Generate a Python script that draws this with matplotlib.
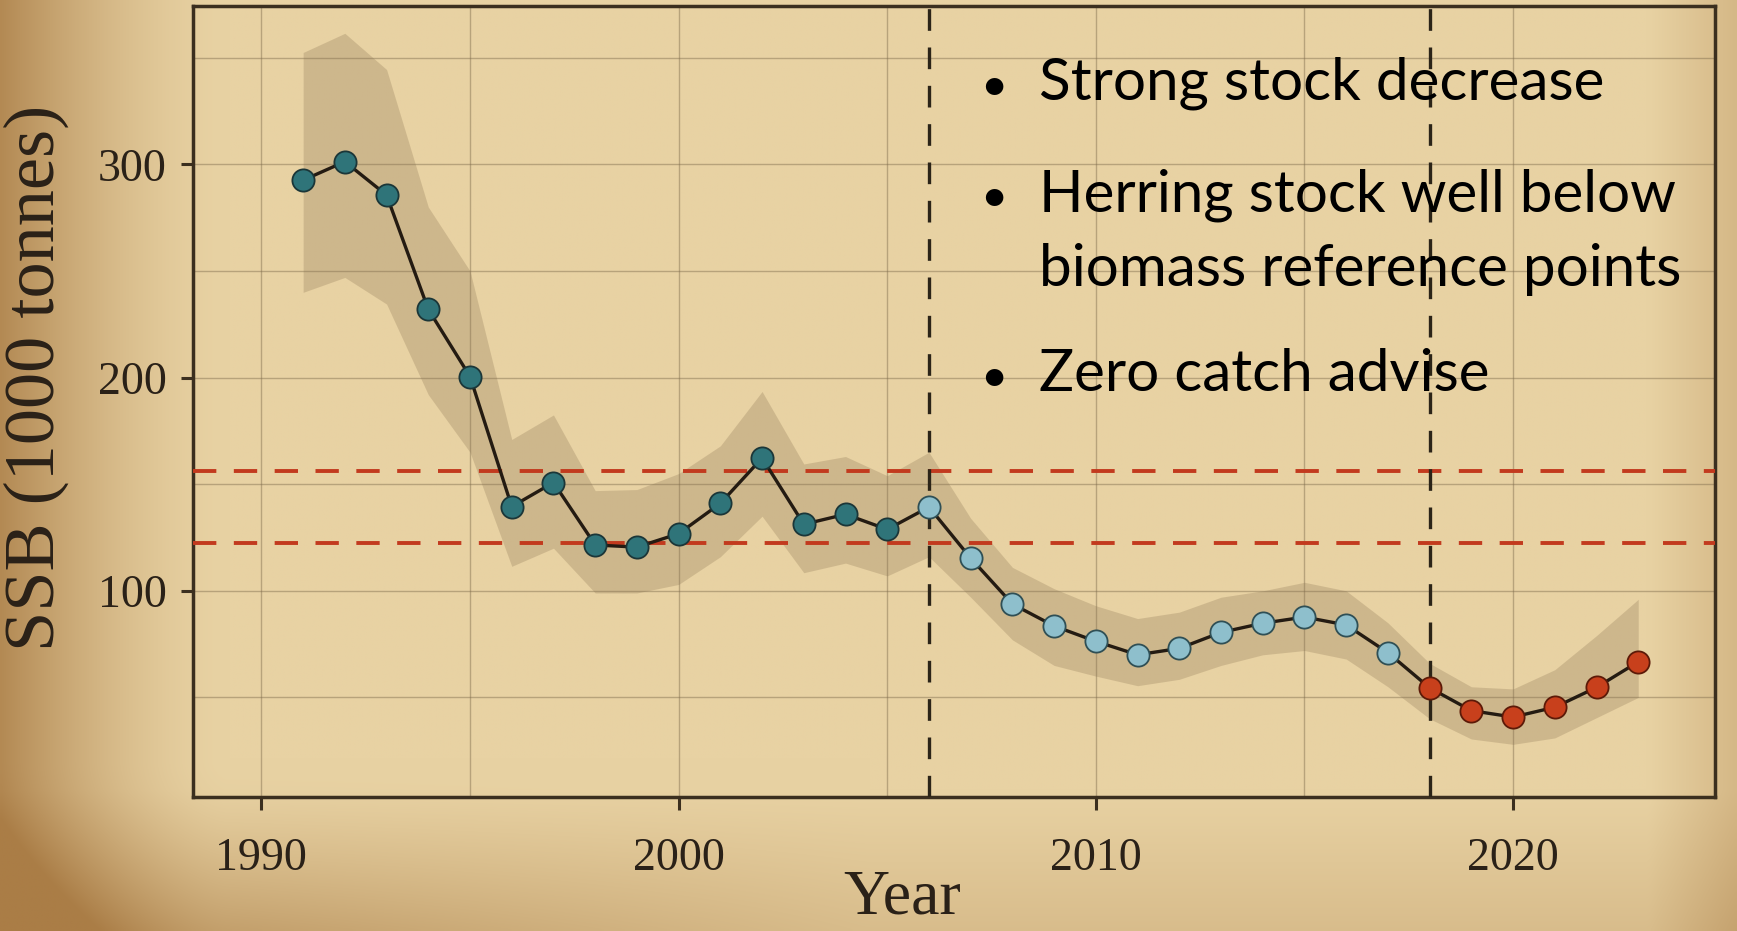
import numpy as np
import matplotlib.pyplot as plt
from matplotlib.ticker import MultipleLocator

# herring SSB assessment
years = list(range(1991, 2024))
ssb = [292.6, 301.3, 285.6, 232.0, 200.5, 139.5, 150.8, 121.5, 120.5, 126.8,
       141.0, 162.3, 131.2, 135.9, 128.8, 139.3, 115.3, 93.8, 83.5, 76.3,
       70.0, 73.0, 80.5, 84.8, 87.7, 84.0, 71.0, 54.5, 43.8, 40.8,
       45.4, 54.7, 66.7]
ssb_upper = [352.5, 361.5, 344.5, 280.0, 250.0, 171.0, 182.5, 147.0, 147.5, 155.0,
             168.0, 193.5, 159.5, 163.0, 154.0, 165.0, 134.0, 111.0, 101.0, 93.0,
             87.0, 90.0, 97.0, 100.0, 104.0, 100.0, 85.0, 66.0, 55.0, 54.0,
             63.0, 79.0, 96.0]
ssb_lower = [240.0, 247.0, 234.5, 192.0, 165.0, 111.5, 120.0, 99.0, 99.0, 103.0,
             116.0, 135.0, 108.5, 113.0, 107.0, 116.0, 97.0, 77.0, 65.0, 60.0,
             55.5, 58.5, 65.0, 70.0, 72.0, 68.0, 55.0, 40.0, 30.5, 28.0,
             31.0, 40.5, 50.0]
ref_points = [122.5, 156.0]      # Blim, Bpa
period_breaks = [2006, 2018]
xticks = [1990, 2000, 2010, 2020]
yticks = [100, 200, 300]
bullets = [["Strong stock decrease"],
           ["Herring stock well below", "biomass reference points"],
           ["Zero catch advise"]]

period_colors = ["#2f7479", "#8ebfcc", "#c8401c"]
period_edges = ["#1b3638", "#2f4f55", "#5c1a08"]

W, H = 1737, 931
fig = plt.figure(figsize=(W / 100, H / 100), dpi=100)

# parchment background with darker edges
yy, xx = np.mgrid[0:1:240j, 0:1:450j]
shade = 0.85 * np.clip(1 - xx / 0.13, 0, 1) ** 1.6
shade += 0.45 * np.clip((yy - 0.82) / 0.18, 0, 1) ** 1.5 * np.clip(1 - xx / 0.5, 0, 1)
shade += 0.25 * np.clip((yy - 0.85) / 0.15, 0, 1)
shade += 0.3 * np.clip((xx - 0.95) / 0.05, 0, 1)
shade = np.clip(shade, 0, 1)[..., None]
base = np.array([232, 210, 163]) / 255
dark = np.array([170, 125, 70]) / 255
bg = base * (1 - shade) + dark * shade
bgax = fig.add_axes([0, 0, 1, 1], zorder=-10)
bgax.imshow(bg, aspect="auto", interpolation="bilinear", extent=[0, 1, 0, 1])
bgax.axis("off")

ax = fig.add_axes([193 / W, 1 - 797 / H, (1715 - 193) / W, (797 - 6) / H])
ax.set_facecolor("none")
ax.set_xlim(1988.36, 2024.84)
ax.set_ylim(3.3, 374.3)

ax.fill_between(years, ssb_lower, ssb_upper, color="#8a7352", alpha=0.28, lw=0, zorder=2)

for y in ref_points:
    ax.axhline(y, color="#c23a1e", lw=2.8, dashes=(6.0, 4.5), zorder=3)
for x in period_breaks:
    ax.axvline(x, color="#2b2418", lw=2.4, dashes=(6.5, 5.0), zorder=3)

ax.plot(years, ssb, color="#241b12", lw=2.4, zorder=4)

groups = np.digitize(years, period_breaks)
for g in range(3):
    xs = [yr for yr, k in zip(years, groups) if k == g]
    ys = [v for v, k in zip(ssb, groups) if k == g]
    ax.plot(xs, ys, "o", ms=16, mfc=period_colors[g], mec=period_edges[g],
            mew=1.3, zorder=5)

ax.set_xticks(xticks)
ax.set_yticks(yticks)
ax.xaxis.set_minor_locator(MultipleLocator(5))
ax.yaxis.set_minor_locator(MultipleLocator(50))
ax.grid(which="both", color="#7d6a4c", lw=1.0, alpha=0.45, zorder=1)
ax.set_axisbelow(True)

serif = ["Liberation Serif", "DejaVu Serif"]
ax.tick_params(which="major", direction="out", length=9, width=2.2, color="#3b2f1f",
               labelsize=33, labelcolor="#2a2118")
ax.tick_params(axis="x", pad=20)
ax.tick_params(axis="y", pad=10)
ax.tick_params(which="minor", length=0)
for lab in ax.get_xticklabels() + ax.get_yticklabels():
    lab.set_family(serif)
for sp in ax.spines.values():
    sp.set_color("#3b2f1f")
    sp.set_linewidth(2.5)

fig.text(36 / W, 1 - 378 / H, "SSB (1000 tonnes)", rotation=90, ha="center", va="center",
         fontsize=52, family=serif, color="#2a2118")
fig.text(902 / W, 4 / H, "Year", ha="center", va="bottom",
         fontsize=46, family=serif, color="#2a2118")

# bullet points
sans = ["Lato", "DejaVu Sans"]
line_y = [[100], [211, 286], [391]]
for lines, ys in zip(bullets, line_y):
    fig.text(980 / W, 1 - ys[0] / H, "\u2022", ha="left", va="baseline",
             fontsize=34, family=sans, color="black")
    for text, yb in zip(lines, ys):
        fig.text(1039 / W, 1 - yb / H, text, ha="left", va="baseline",
                 fontsize=42, family=sans, color="black")

fig.savefig("out.png", dpi=100)
